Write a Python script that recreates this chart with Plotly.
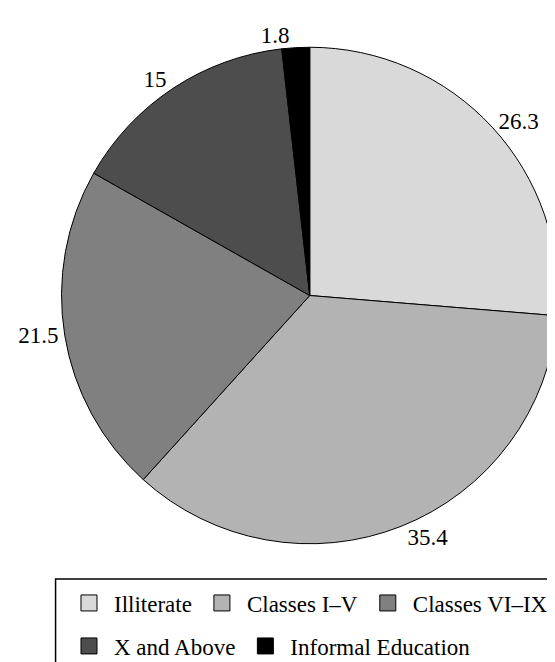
import plotly.graph_objects as go

categories = ["Illiterate", "Classes I–V", "Classes VI–IX", "X and Above", "Informal Education"]
values = [26.3, 35.4, 21.5, 15, 1.8]
colors = ["#d9d9d9", "#b3b3b3", "#808080", "#4d4d4d", "#000000"]
legend_rows = ["legend", "legend", "legend", "legend2", "legend2"]

W, H = 555, 662
FONT = "Liberation Serif"

fig = go.Figure()
fig.add_trace(go.Pie(
    labels=categories,
    values=values,
    marker=dict(colors=colors, line=dict(color="black", width=1)),
    sort=False,
    direction="clockwise",
    rotation=0,
    textinfo="value",
    textposition="outside",
    textfont=dict(family=FONT, size=23, color="black"),
    showlegend=False,
    domain=dict(x=[54 / W, 1.0], y=[1 - 538 / H, 1 - 37 / H]),
    hoverinfo="label+value",
))

# legend entries (one per category, same colours as the slices)
for cat, col, lg in zip(categories, colors, legend_rows):
    fig.add_trace(go.Scatter(
        x=[None], y=[None], mode="markers", name=cat,
        marker=dict(symbol="square", size=26, color=col, line=dict(color="black", width=1)),
        legend=lg, showlegend=True,
    ))

legend_common = dict(
    orientation="h", xanchor="left", yanchor="top",
    font=dict(family=FONT, size=23, color="black"),
    bgcolor="rgba(0,0,0,0)", borderwidth=0, itemwidth=40,
    itemclick=False, itemdoubleclick=False,
)

fig.update_layout(
    width=W, height=H,
    margin=dict(l=0, r=0, t=0, b=0),
    paper_bgcolor="white", plot_bgcolor="white",
    xaxis=dict(visible=False), yaxis=dict(visible=False),
    legend=dict(x=56.5 / W, y=1 - 573.5 / H, **legend_common),
    legend2=dict(x=56.5 / W, y=1 - 616.5 / H, **legend_common),
    shapes=[dict(type="rect", xref="paper", yref="paper",
                 x0=48 / W, x1=1.02, y0=-0.05, y1=1 - 571 / H,
                 line=dict(color="black", width=1.5), fillcolor="rgba(0,0,0,0)")],
)

fig.write_html("out.html")
